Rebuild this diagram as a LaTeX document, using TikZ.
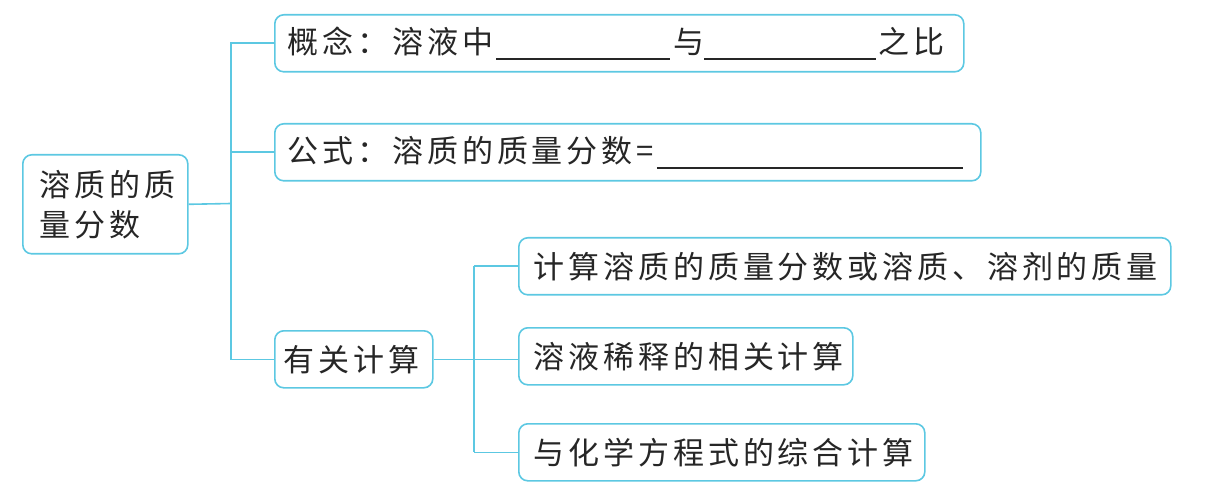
\documentclass[tikz,border=0pt]{standalone}
\usepackage{fontspec}
\newfontfamily\cjk[LetterSpace=12.5]{Noto Sans CJK SC}
\definecolor{bc}{RGB}{92,200,226}
\tikzset{
  box/.style={draw=bc, line width=1.6pt, rounded corners=9pt, inner xsep=13pt, inner ysep=0pt,
    minimum height=57pt, anchor=north west, align=left, text=black!85,
    font=\cjk\fontsize{31}{40}\selectfont},
  link/.style={draw=bc, line width=1.6pt},
}
\newcommand{\blank}[1]{\rule[-0.2em]{#1}{1.2pt}}
\begin{document}
\begin{tikzpicture}[x=1pt,y=-1pt]
\useasboundingbox (0,0) rectangle (1227,489);
\node[box, inner xsep=17pt, text width=131pt, minimum height=99pt] (root) at (22,154) {溶质的质\\量分数};
\node[box, text width=663pt] (b1) at (274,14) {概念：溶液中\hspace{3pt}\blank{174pt}\hspace{3pt}与\blank{172pt}\hspace{2pt}之比};
\node[box, text width=680pt] (b2) at (274,123) {公式：溶质的质量分数=\hspace{3pt}\blank{306pt}};
\node[box, inner xsep=9pt, text width=140pt] (b3) at (274,330) {有关计算};
\node[box, inner xsep=15pt, text width=622pt] (b4) at (518,237) {计算溶质的质量分数或溶质、溶剂的质量};
\node[box, inner xsep=15pt, text width=304pt] (b5) at (518,327) {溶液稀释的相关计算};
\node[box, inner xsep=15pt, text width=376pt] (b6) at (518,423) {与化学方程式的综合计算};
\coordinate (j1) at (231,203.5);
\coordinate (j2) at (474,359);
\draw[link] (root.east) -- (j1);
\draw[link] (j1) |- (b1.west);
\draw[link] (j1) |- (b2.west);
\draw[link] (j1) |- (b3.west);
\draw[link] (b3.east) -- (b3.east -| b5.west);
\draw[link] (j2 |- b4.west) -- (j2 |- b6.west);
\draw[link] (j2 |- b4.west) -- (b4.west);
\draw[link] (j2 |- b6.west) -- (b6.west);
\end{tikzpicture}
\end{document}
